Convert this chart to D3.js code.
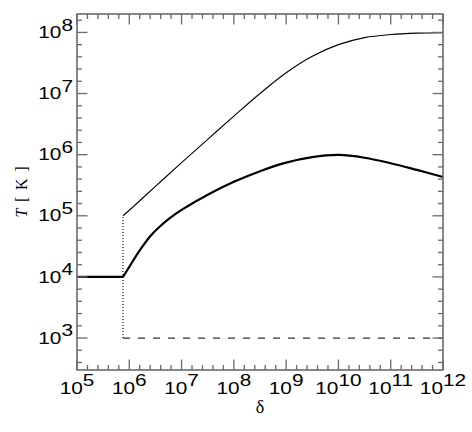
<!DOCTYPE html>
<html>
<head>
<meta charset="utf-8">
<script src="https://cdn.jsdelivr.net/npm/d3@7"></script>
<style>
  html, body { margin: 0; padding: 0; background: #fff; }
  svg { display: block; }
</style>
</head>
<body>
<svg id="chart" width="472" height="432"></svg>
<script>
// ---- data (log10 values) ----
const xDomain = [1e5, 1e12];
const yDomain = [300, 2e8];
const xTickExponents = [5, 6, 7, 8, 9, 10, 11, 12];
const yTickExponents = [3, 4, 5, 6, 7, 8];

const jumpLgDelta = 5.88;

// thin curve (upper branch)
const hotLgDelta = [5.88, 6.0, 6.5, 7.0, 7.5, 8.0, 8.5, 9.0, 9.5, 10.0, 10.5, 11.0, 11.5, 12.0];
const hotLgT     = [5.0, 5.09, 5.48, 5.87, 6.25, 6.63, 7.0, 7.34, 7.61, 7.80, 7.915, 7.965, 7.988, 7.995];

// thick curve
const flatLgDelta = [5.0, 5.88];
const flatLgT     = [4.0, 4.0];
const warmLgDelta = [5.88, 6.0, 6.2, 6.4, 6.6, 6.8, 7.0, 7.5, 8.0, 8.5, 9.0, 9.5, 10.0, 10.5, 11.0, 11.5, 12.0];
const warmLgT     = [4.0, 4.165, 4.433, 4.666, 4.837, 4.977, 5.096, 5.344, 5.555, 5.73, 5.87, 5.96, 5.995, 5.95, 5.86, 5.75, 5.635];

// dashed floor
const coldLgDelta = [5.88, 12.0];
const coldLgT     = [3.0, 3.0];

// dotted jump
const jumpLgT = [3.0, 5.0];

// ---- layout ----
const plot = { left: 77, right: 443, top: 14, bottom: 370 };
const svg = d3.select("#chart");

const x = d3.scaleLog().domain(xDomain).range([plot.left, plot.right]);
const y = d3.scaleLog().domain(yDomain).range([plot.bottom, plot.top]);

const pts = (lx, ly) => lx.map((v, i) => [Math.pow(10, v), Math.pow(10, ly[i])]);

const axisColor = "#6a6a6a";

// curves
const g = svg.append("g");
const lineLin = d3.line().x(d => x(d[0])).y(d => y(d[1]));
const lineCurve = d3.line().x(d => x(d[0])).y(d => y(d[1])).curve(d3.curveCatmullRom.alpha(0.5));

g.append("path").attr("d", lineCurve(pts(hotLgDelta, hotLgT)))
  .attr("fill", "none").attr("stroke", "#000").attr("stroke-width", 1.1);

g.append("path").attr("d", lineLin(pts(flatLgDelta, flatLgT)))
  .attr("fill", "none").attr("stroke", "#000").attr("stroke-width", 2.2);
g.append("path").attr("d", lineCurve(pts(warmLgDelta, warmLgT)))
  .attr("fill", "none").attr("stroke", "#000").attr("stroke-width", 2.2)
  .attr("stroke-linejoin", "round");

g.append("path").attr("d", lineLin(pts(coldLgDelta, coldLgT)))
  .attr("fill", "none").attr("stroke", "#333").attr("stroke-width", 1.3)
  .attr("stroke-dasharray", "7,8");

g.append("path").attr("d", lineLin(pts([jumpLgDelta, jumpLgDelta], jumpLgT)))
  .attr("fill", "none").attr("stroke", "#000").attr("stroke-width", 1.1)
  .attr("stroke-dasharray", "1,2");

// frame
const ax = svg.append("g");
ax.append("rect")
  .attr("x", plot.left).attr("y", plot.top)
  .attr("width", plot.right - plot.left).attr("height", plot.bottom - plot.top)
  .attr("fill", "none").attr("stroke", axisColor).attr("stroke-width", 1.6);

function tickSet(e0, e1) {
  const out = [];
  for (let k = Math.round(e0 * 5); k <= Math.round(e1 * 5); k++) {
    out.push({ v: Math.pow(10, k / 5), major: k % 5 === 0 });
  }
  return out;
}

// x ticks (bottom & top)
tickSet(xTickExponents[0], xTickExponents[xTickExponents.length - 1]).forEach(t => {
  const px = x(t.v);
  const len = t.major ? 10.5 : 5;
  ax.append("line").attr("x1", px).attr("x2", px).attr("y1", plot.bottom).attr("y2", plot.bottom - len)
    .attr("stroke", axisColor).attr("stroke-width", 1.3);
  ax.append("line").attr("x1", px).attr("x2", px).attr("y1", plot.top).attr("y2", plot.top + len)
    .attr("stroke", axisColor).attr("stroke-width", 1.3);
});

// y ticks (left & right) covering the domain
tickSet(2.6, 8.2).forEach(t => {
  const py = y(t.v);
  const len = t.major ? 10.5 : 5;
  ax.append("line").attr("y1", py).attr("y2", py).attr("x1", plot.left).attr("x2", plot.left + len)
    .attr("stroke", axisColor).attr("stroke-width", 1.3);
  ax.append("line").attr("y1", py).attr("y2", py).attr("x1", plot.right).attr("x2", plot.right - len)
    .attr("stroke", axisColor).attr("stroke-width", 1.3);
});

// tick labels
const FONT = "'Liberation Sans', Arial, Helvetica, sans-serif";
const SX = 1.3;
function powLabel(parent, tx, ty, exp, align) {
  const outer = parent.append("g").attr("transform", `translate(${tx},${ty})`);
  const inner = outer.append("g").attr("transform", `scale(${SX},1)`);
  const t = inner.append("text")
    .attr("font-family", FONT).attr("font-size", 16).attr("fill", "#000");
  t.append("tspan").text("10");
  t.append("tspan").attr("dy", -7.5).text(String(exp));
  const w = t.node().getComputedTextLength();
  if (align === "middle") t.attr("x", -w / 2);
  else t.attr("x", -w);
}
const labels = svg.append("g");
xTickExponents.forEach(e => powLabel(labels, x(Math.pow(10, e)), 393.5, e, "middle"));
yTickExponents.forEach(e => powLabel(labels, 73, y(Math.pow(10, e)) + 5.6, e, "end"));

// axis titles
svg.append("text")
  .attr("x", (plot.left + plot.right) / 2).attr("y", 413)
  .attr("text-anchor", "middle")
  .attr("font-family", "'Liberation Serif', 'Times New Roman', serif")
  .attr("font-size", 18).text("δ");

const yt = svg.append("text")
  .attr("transform", `translate(27,${(plot.top + plot.bottom) / 2}) rotate(-90)`)
  .attr("text-anchor", "middle")
  .attr("font-family", "'Liberation Serif', 'Times New Roman', serif")
  .attr("font-size", 16)
  .attr("textLength", 51).attr("lengthAdjust", "spacing");
yt.append("tspan").attr("font-style", "italic").text("T");
yt.append("tspan").text("\u00a0[\u00a0K\u00a0]");
</script>
</body>
</html>
